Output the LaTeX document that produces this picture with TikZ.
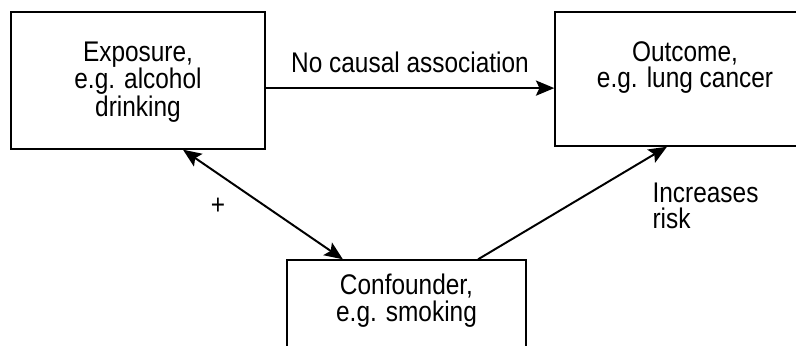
\documentclass[tikz,border=0pt]{standalone}
\usepackage{fontspec}
\setmainfont{Liberation Sans}[FakeStretch=0.86]
\usepackage{tikz}
\usetikzlibrary{arrows.meta,calc,positioning}

\begin{document}
\begin{tikzpicture}[
  font=\fontsize{20.2}{18.8}\selectfont,
  pfeil/.style={-{Stealth[length=4.6mm, width=3.8mm, inset=0.9mm]}, line width=1.4pt},
  doppel/.style={{Stealth[length=4.6mm, width=3.8mm, inset=0.9mm]}-{Stealth[length=4.6mm, width=3.8mm, inset=0.9mm]}, line width=1.4pt},
  box/.style={draw, line width=1pt, inner sep=0pt},
  txt/.style={inner sep=0pt, align=center}
]

\useasboundingbox (0,0) rectangle (19.9,8.625);
\clip (0,0) rectangle (19.9,8.625);

% ---------- Kaesten ----------------------------------------------
\node[box, minimum width=6.35cm, minimum height=3.425cm] (exp) at (3.45,6.6125) {};
\node[txt, below=0.75cm of exp.north] (exptxt) {Exposure,\\ e.g. alcohol\\ drinking};

\node[box, minimum width=6.5cm, minimum height=3.35cm] (out) at (17.125,6.65) {};
\node[txt, below=0.75cm of out.north] (outtxt) {Outcome,\\ e.g. lung cancer};

\node[box, minimum width=5.975cm, minimum height=2.5cm] (conf) at (10.1625,0.875) {};
\node[txt, below=0.37cm of conf.north] (conftxt) {Confounder,\\ e.g. smoking};

% ---------- Pfeile -----------------------------------------------
\draw[pfeil] ([yshift=-0.19cm]exp.east) -- ([yshift=-0.19cm]exp.east -| out.west)
  node (nca) [txt, midway, above=0.37cm] {No causal association};

\draw[doppel] ([xshift=1.125cm]exp.south) -- ([xshift=-1.59cm]conf.north)
  node (plus) [txt, pos=0.52, left=1.0cm] {+};

\draw[pfeil] ([xshift=1.79cm]conf.north) -- ([xshift=-0.45cm]out.south);
\node[txt, align=left, below right=0.9cm and 2.45cm of out.south west] (risk)
  {Increases\\ risk};

\end{tikzpicture}
\end{document}
